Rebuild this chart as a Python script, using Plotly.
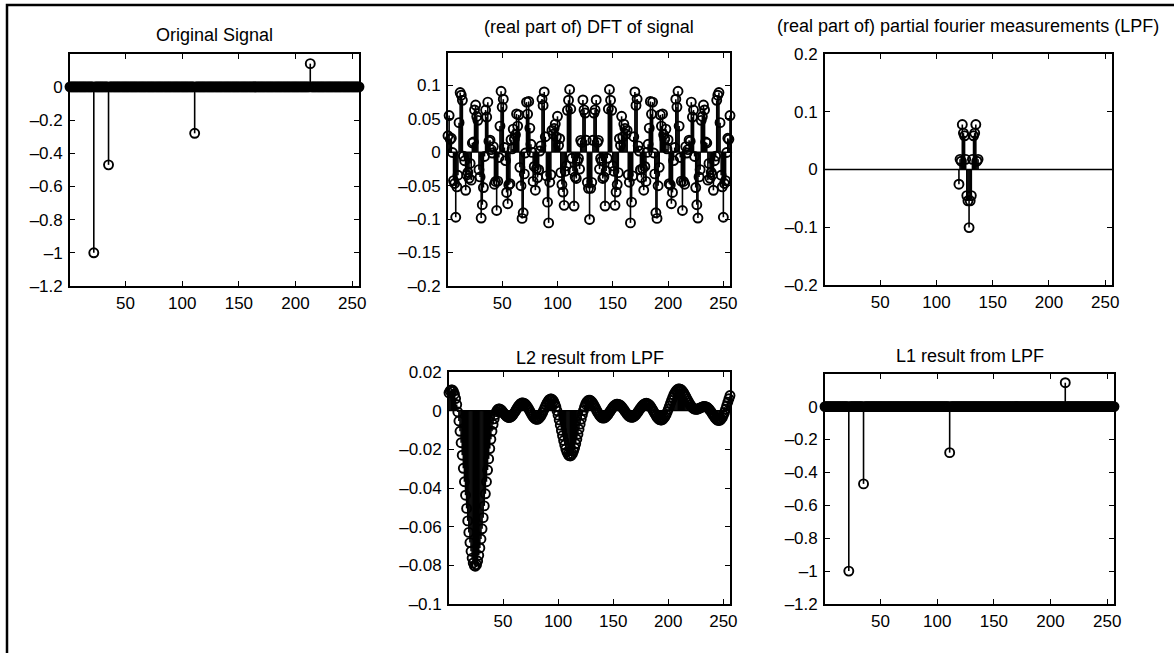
import numpy as np
import plotly.graph_objects as go

# ---------------- data ----------------
N = 256
spike_idx = [22, 35, 111, 213]            # 1-based sample positions of the spikes
spike_val = [-1.0, -0.47, -0.28, 0.14]    # original signal spike amplitudes
l1_idx = [22, 35, 111, 213]
l1_val = [-1.0, -0.47, -0.28, 0.145]      # L1 reconstruction (matches original)
lpf_lo, lpf_hi = 120, 137                 # measured (shifted) DFT bins, 1-based
dc_bin = 129                              # position of DC after fftshift (1-based)

titles = [
    "Original Signal",
    "(real part of) DFT of signal",
    "(real part of) partial fourier measurements (LPF)",
    "L2 result from LPF",
    "L1 result from LPF",
]
x_ticks = [50, 100, 150, 200, 250]
yticks_signal = [-1.2, -1, -0.8, -0.6, -0.4, -0.2, 0]
yticks_dft = [-0.2, -0.15, -0.1, -0.05, 0, 0.05, 0.1]
yticks_lpf = [-0.2, -0.1, 0, 0.1, 0.2]
yticks_l2 = [-0.1, -0.08, -0.06, -0.04, -0.02, 0, 0.02]

# ---------------- derived series (DFT relations of the signal) ----------------
n = np.arange(1, N + 1)
signal = np.zeros(N)
signal[np.array(spike_idx) - 1] = spike_val
X = np.fft.fftshift(np.fft.fft(signal)) / np.sqrt(N)
dft_re = X.real
band = np.arange(lpf_lo, lpf_hi + 1)
lpf_re = X.real[band - 1]
# minimum-norm real solution: measured bins plus their conjugate mirrors
half = max(dc_bin - lpf_lo, lpf_hi - dc_bin)
sym_band = np.arange(dc_bin - half, dc_bin + half + 1)
Y = np.zeros(N, dtype=complex)
Y[sym_band - 1] = X[sym_band - 1]
l2 = np.real(np.fft.ifft(np.fft.ifftshift(Y)) * np.sqrt(N))
l1 = np.zeros(N)
l1[np.array(l1_idx) - 1] = l1_val

# ---------------- layout geometry (pixels) ----------------
W, H = 1174, 653
boxes = [
    (70, 359, 54, 286),
    (448, 730, 53, 286),
    (825, 1112, 54, 285),
    (449, 730, 372, 604),
    (825, 1114, 374, 604),
]
title_y = [35, 27, 26, 358, 356]
yranges = [[-1.2, 0.198], [-0.2, 0.148], [-0.2, 0.2], [-0.1, 0.02], [-1.2, 0.198]]
yticks = [yticks_signal, yticks_dft, yticks_lpf, yticks_l2, yticks_signal]
series = [(n, signal), (n, dft_re), (band, lpf_re), (n, l2), (n, l1)]

FONT = "Liberation Sans, Arial, Helvetica, sans-serif"


def fmt(v):
    # MATLAB-style short labels with a long dash for negatives
    return ("%g" % v).replace("-", "\u2013")


fig = go.Figure()
for i, ((xs, ys), (x0, x1, y0, y1)) in enumerate(zip(series, boxes), start=1):
    sx, sy = [], []
    for a, b in zip(xs, ys):
        sx += [a, a, None]
        sy += [0, b, None]
    xa = "x" if i == 1 else "x%d" % i
    ya = "y" if i == 1 else "y%d" % i
    fig.add_trace(go.Scatter(x=sx, y=sy, mode="lines", xaxis=xa, yaxis=ya,
                             line=dict(color="black", width=1.6),
                             hoverinfo="skip", showlegend=False, cliponaxis=False))
    fig.add_trace(go.Scatter(x=list(xs), y=list(ys), mode="markers", xaxis=xa, yaxis=ya,
                             marker=dict(symbol="circle-open", size=9, color="black",
                                         line=dict(width=1.9, color="black")),
                             showlegend=False, cliponaxis=False))
    axis_common = dict(showline=True, linecolor="black", linewidth=1.7, mirror="ticks",
                       ticks="inside", ticklen=5, tickwidth=1.2, tickcolor="black",
                       showgrid=False, zeroline=False, automargin=False,
                       tickfont=dict(family=FONT, size=17, color="black"))
    fig.layout["xaxis" if i == 1 else "xaxis%d" % i] = dict(
        domain=[x0 / W, x1 / W], anchor=ya, range=[1, 256],
        tickvals=x_ticks, ticktext=[fmt(v) for v in x_ticks],
        ticklabelstandoff=1, **axis_common)
    fig.layout["yaxis" if i == 1 else "yaxis%d" % i] = dict(
        domain=[1 - y1 / H, 1 - y0 / H], anchor=xa, range=yranges[i - 1],
        tickvals=yticks[i - 1], ticktext=[fmt(v) for v in yticks[i - 1]],
        ticklabelstandoff=2, **axis_common)
    # stem baseline at zero across the axis
    fig.add_shape(type="line", xref="%s domain" % xa, yref=ya, x0=0, x1=1, y0=0, y1=0,
                  line=dict(color="black", width=1.3))
    fig.add_annotation(text=titles[i - 1], xref="paper", yref="paper",
                       x=(x0 + x1) / 2 / W, y=1 - title_y[i - 1] / H,
                       xanchor="center", yanchor="middle", showarrow=False,
                       font=dict(family=FONT, size=18, color="black"))

# figure frame
fig.add_shape(type="rect", xref="paper", yref="paper", x0=7 / W, x1=1.05,
              y0=-0.05, y1=1 - 5 / H, line=dict(color="black", width=2.5))

fig.update_layout(template="none", width=W, height=H,
                  margin=dict(l=0, r=0, t=0, b=0, pad=0),
                  paper_bgcolor="white", plot_bgcolor="white",
                  font=dict(family=FONT, color="black"))
fig.write_html("out.html", config={"displayModeBar": False},
               post_script="document.body.style.margin='0px';document.body.style.overflow='hidden';")
